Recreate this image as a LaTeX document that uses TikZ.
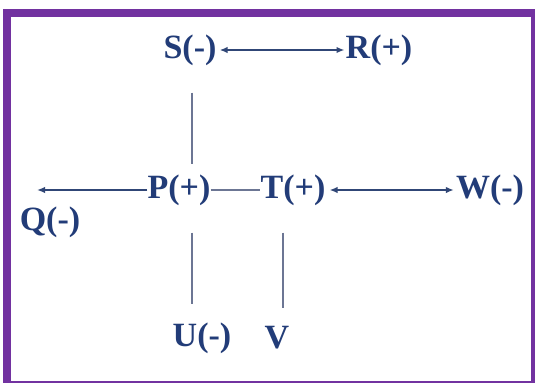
\documentclass[tikz,border=0pt]{standalone}
\usepackage{fontspec}
\setmainfont{Liberation Serif}
\definecolor{frame}{RGB}{114,50,160}
\definecolor{ink}{RGB}{34,60,120}
\definecolor{wire}{RGB}{48,70,118}
\definecolor{stem}{RGB}{108,118,148}
\usetikzlibrary{arrows.meta,positioning}

\begin{document}
\begin{tikzpicture}[x=1pt,y=-1pt,
    lbl/.style={inner sep=0pt,text=ink,font=\fontsize{34}{36}\selectfont\bfseries},
    arr/.style={wire,line width=1.6pt,-{Latex[length=8pt,width=6.5pt]}},
    darr/.style={wire,line width=1.6pt,{Latex[length=8pt,width=6.5pt]}-{Latex[length=8pt,width=6.5pt]}},
    link/.style={stem,line width=1.4pt}]
        \useasboundingbox (0,0) rectangle (535,383);
        \fill[frame] (3,9) rectangle (535,383);
        \fill[white] (11,17) rectangle (531,381);
        % labels
        \node[lbl] (S) at (190,50) {S(-)};
        \node[lbl] (R) at (379,50) {R(+)};
        \node[lbl] (P) at (179,190) {P(+)};
        \node[lbl] (T) at (293,190) {T(+)};
        \node[lbl] (W) at (490,190) {W(-)};
        \node[lbl] (Q) at (50,222) {Q(-)};
        \node[lbl] (U) at (202,338) {U(-)};
        \node[lbl] (V) at (277,338) {V};
        \coordinate (qtip) at (37,190);
        % connectors
        \draw[darr,shorten <=3pt,shorten >=1pt] (S.east) -- (R.west);
        \draw[darr,shorten <=4pt,shorten >=2pt] (T.east) -- (W.west);
        \draw[arr] (P.west) -- (qtip);
        \draw[link] (P.east) -- (T.west);
        \draw[link,shorten <=27pt,shorten >=10pt] ([xshift=2pt]S.south) -- ([xshift=2pt]S.south |- P.north);
        \draw[link,shorten <=27pt,shorten >=18pt] ([xshift=2pt]S.south |- P.south) -- ([xshift=2pt]S.south |- U.north);
        \draw[link,shorten <=27pt,shorten >=18pt] ([xshift=-10pt]T.south) -- ([xshift=-10pt]T.south |- V.north);
      \end{tikzpicture}
\end{document}
